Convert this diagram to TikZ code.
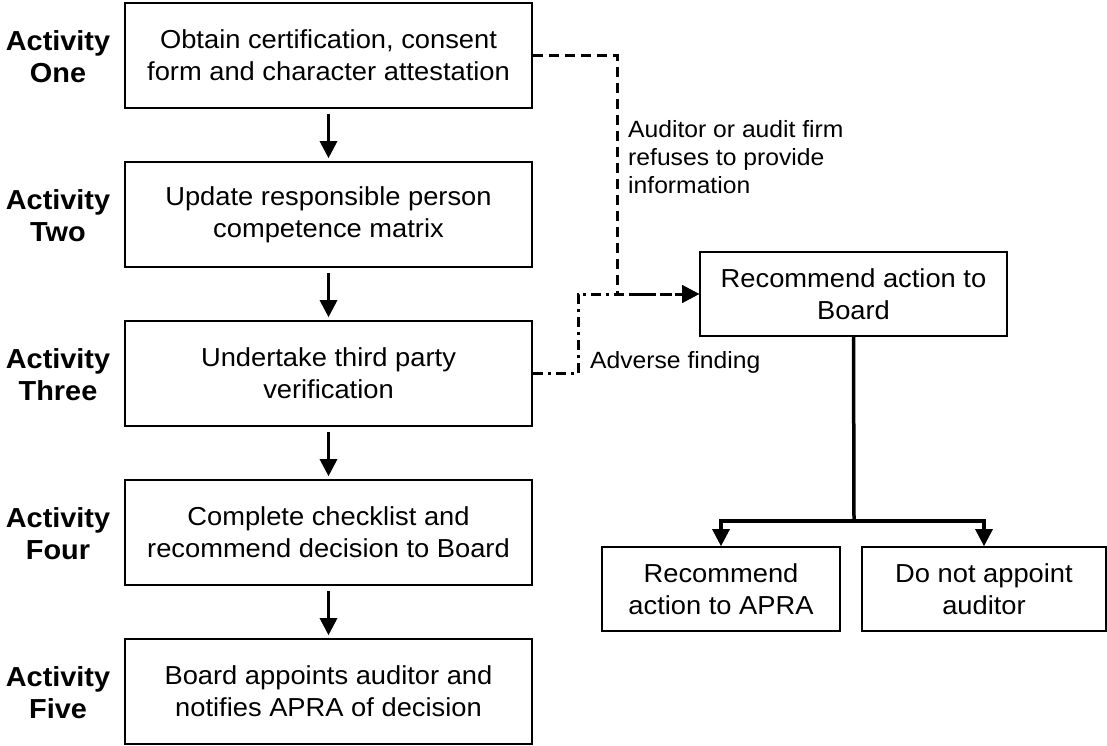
\documentclass[tikz,border=0pt]{standalone}
\usepackage{fontspec}
\setmainfont{Liberation Sans}
\newfontfamily\stretchfont[FakeStretch=1.05]{Liberation Sans}
\usetikzlibrary{arrows.meta}
\begin{document}
\begin{tikzpicture}[x=1pt,y=-1pt,
  stepbox/.style={draw,line width=1.6pt,minimum width=407pt,minimum height=105pt,inner sep=0pt,align=center,
    font=\stretchfont\fontsize{26}{32}\selectfont},
  sidebox/.style={draw,line width=1.6pt,minimum height=84pt,inner sep=0pt,align=center,
    font=\stretchfont\fontsize{26}{32}\selectfont},
  actlabel/.style={align=center,inner sep=0pt,font=\stretchfont\bfseries\fontsize{27.5}{32}\selectfont},
  note/.style={align=left,inner sep=0pt,font=\stretchfont\fontsize{23.5}{28}\selectfont},
  flow/.style={line width=3pt,-{Triangle[length=17pt,width=17pt]}},
  branch/.style={line width=3.5pt,line join=miter},
  dashline/.style={line width=3pt,dash pattern=on 10pt off 6pt,-{Triangle[length=17pt,width=17pt]}},
  dashdotline/.style={line width=3pt,dash pattern=on 10pt off 5pt on 3pt off 5pt,-{Triangle[length=17pt,width=17pt]}}
]
\useasboundingbox (0,0) rectangle (1107,746);

\node[stepbox] (b1) at (328.5,55.5) {Obtain certification, consent\\form and character attestation};
\node[stepbox] (b2) at (328.5,214.5) {Update responsible person\\competence matrix};
\node[stepbox] (b3) at (328.5,373.5) {Undertake third party\\verification};
\node[stepbox] (b4) at (328.5,532.5) {Complete checklist and\\recommend decision to Board};
\node[stepbox] (b5) at (328.5,691.5) {Board appoints auditor and\\notifies APRA of decision};

\node[actlabel] (a1) at (58,57) {Activity\\One};
\node[actlabel] (a2) at (58,216) {Activity\\Two};
\node[actlabel] (a3) at (58,375) {Activity\\Three};
\node[actlabel] (a4) at (58,534) {Activity\\Four};
\node[actlabel] (a5) at (58,693) {Activity\\Five};

\draw[flow] ([yshift=-5pt]b1.south) -- ([yshift=3pt]b2.north);
\draw[flow] ([yshift=-5pt]b2.south) -- ([yshift=3pt]b3.north);
\draw[flow] ([yshift=-5pt]b3.south) -- ([yshift=3pt]b4.north);
\draw[flow] ([yshift=-5pt]b4.south) -- ([yshift=3pt]b5.north);

\node[sidebox,minimum width=307pt] (board) at (853.5,294) {Recommend action to\\Board};
\node[sidebox,minimum width=238pt] (apra) at (721,589) {Recommend\\action to APRA};
\node[sidebox,minimum width=244pt] (dna) at (984,589) {Do not appoint\\auditor};

\coordinate (j) at (854,521);
\draw[branch] ([yshift=14pt]apra.north) |- (j) -| ([yshift=14pt]dna.north);
\draw[branch] (board.south) -- (j);
\draw[flow] ([yshift=16pt]apra.north) -- (apra.north);
\draw[flow] ([yshift=16pt]dna.north) -- (dna.north);

\coordinate (dx) at (617,0);
\coordinate (ddx) at (578,0);
\draw[dashline] (b1.east) -| (dx |- board.west) -- (board.west);
\draw[dashdotline] (b3.east) -| (ddx |- board.west) -- (board.west);

\node[note,anchor=west] (n1) at (628,157) {Auditor or audit firm\\refuses to provide\\information};
\node[note,anchor=base west] (n2) at (590,368) {Adverse finding};
\end{tikzpicture}
\end{document}
